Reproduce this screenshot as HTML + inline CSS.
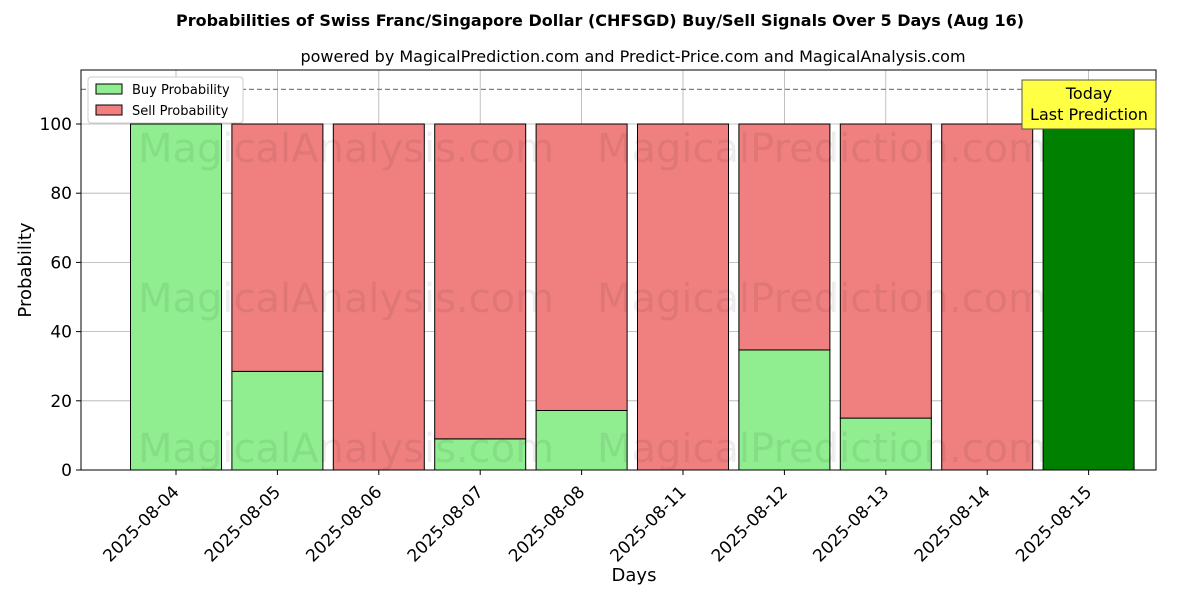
<!DOCTYPE html>
<html><head><meta charset="utf-8"><style>
body{margin:0;background:#fff;font-family:"DejaVu Sans","Liberation Sans",sans-serif}
svg text{font-family:"DejaVu Sans","Liberation Sans",sans-serif}
</style></head><body>
<svg id="chart" width="1200" height="600" xmlns="http://www.w3.org/2000/svg">
<text x="600" y="26" text-anchor="middle" font-size="16" font-weight="bold">Probabilities of Swiss Franc/Singapore Dollar (CHFSGD) Buy/Sell Signals Over 5 Days (Aug 16)</text>
<text x="633" y="62" text-anchor="middle" font-size="16">powered by MagicalPrediction.com and Predict-Price.com and MagicalAnalysis.com</text>
<g id="grid"></g>
<g id="bars"></g>
<g id="wm" font-size="40" fill="#000" fill-opacity="0.07">
<text x="346" y="162" text-anchor="middle">MagicalAnalysis.com</text>
<text x="822" y="162" text-anchor="middle">MagicalPrediction.com</text>
<text x="346" y="312" text-anchor="middle">MagicalAnalysis.com</text>
<text x="822" y="312" text-anchor="middle">MagicalPrediction.com</text>
<text x="346" y="462" text-anchor="middle">MagicalAnalysis.com</text>
<text x="822" y="462" text-anchor="middle">MagicalPrediction.com</text>
</g>
<line x1="81" x2="1156" y1="89.4" y2="89.4" stroke="#808080" stroke-width="1.3" stroke-dasharray="5,3"/>
<rect x="81" y="70" width="1075" height="400" fill="none" stroke="#000" stroke-width="1"/>
<g id="axes"></g>
<g>
<rect x="1022" y="80" width="134" height="49" fill="#ffff44" stroke="#555" stroke-width="1"/>
<text x="1089" y="99" text-anchor="middle" font-size="16">Today</text>
<text x="1089" y="120" text-anchor="middle" font-size="16">Last Prediction</text>
</g>
<g>
<rect x="88" y="77" width="155" height="46" fill="#fff" stroke="#ccc" rx="3"/>
<rect x="96" y="84" width="26" height="10" fill="#90ee90" stroke="#000"/>
<text x="132" y="94" font-size="13">Buy Probability</text>
<rect x="96" y="105" width="26" height="10" fill="#f08080" stroke="#000"/>
<text x="132" y="115" font-size="13">Sell Probability</text>
</g>
<text x="634" y="581" text-anchor="middle" font-size="18">Days</text>
<text transform="translate(31,270) rotate(-90)" text-anchor="middle" font-size="18">Probability</text>
</svg>
<script>
const categories=["2025-08-04","2025-08-05","2025-08-06","2025-08-07","2025-08-08","2025-08-11","2025-08-12","2025-08-13","2025-08-14","2025-08-15"];
const buyValues=[100,28.5,0,9,17.2,0,34.7,15,0,100];
const sellValues=[0,71.5,100,91,82.8,100,65.3,85,100,0];
const yTicks=[0,20,40,60,80,100];
const NS="http://www.w3.org/2000/svg";
function xs(i){return 176+101.4*i;}
function ys(v){return 470-3.46*v;}
const bw=91;
const grid=document.getElementById('grid'),bars=document.getElementById('bars'),axes=document.getElementById('axes');
function mk(tag,attrs,parent){const e=document.createElementNS(NS,tag);for(const k in attrs)e.setAttribute(k,attrs[k]);parent.appendChild(e);return e;}
yTicks.forEach(t=>{
 const g=mk('line',{x1:81,x2:1156,y1:ys(t),y2:ys(t),stroke:'#b0b0b0','stroke-width':0.8},grid);
 
 
 const tk=mk('line',{x1:76,x2:81,y1:ys(t),y2:ys(t),stroke:'#000'},axes);
 
 
 const l=mk('text',{x:72,y:ys(t)+6,'text-anchor':'end','font-size':17},axes);
 l.textContent=t;
 
 
});
categories.forEach((c,i)=>{
 const x=xs(i);
 const g=mk('line',{x1:x,x2:x,y1:70,y2:470,stroke:'#b0b0b0','stroke-width':0.8},grid);
 
 
 const last=i===categories.length-1;
 const b=mk('rect',{x:x-bw/2,y:ys(buyValues[i]),width:bw,height:ys(0)-ys(buyValues[i]),fill:last?'#008000':'#90ee90',stroke:'#000','stroke-width':1},bars);
 
 
 const s=mk('rect',{x:x-bw/2,y:ys(buyValues[i]+sellValues[i]),width:bw,height:ys(buyValues[i])-ys(buyValues[i]+sellValues[i]),fill:'#f08080',stroke:'#000','stroke-width':1},bars);
 
 
 const tk=mk('line',{x1:x,x2:x,y1:470,y2:475,stroke:'#000'},axes);
 
 
 const ax=x+4, ay=493;
 const l=mk('text',{x:ax,y:ay,'text-anchor':'end','font-size':17,transform:`rotate(-45 ${ax} ${ay})`},axes);
 l.textContent=c;
 
 
});
</script>
</body></html>
